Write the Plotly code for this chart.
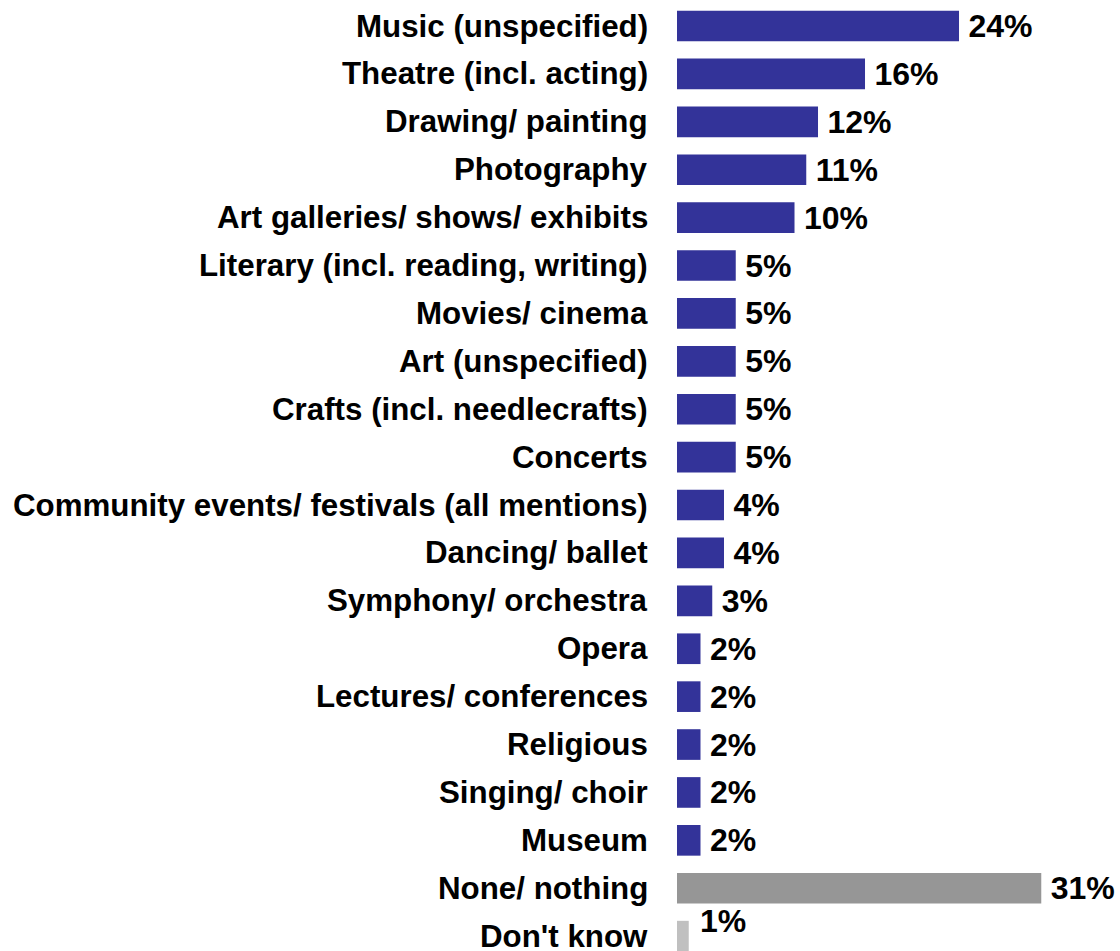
import plotly.graph_objects as go

# Arts and cultural activities mentioned (share of respondents, %)
activities = [
    "Music (unspecified)",
    "Theatre (incl. acting)",
    "Drawing/ painting",
    "Photography",
    "Art galleries/ shows/ exhibits",
    "Literary (incl. reading, writing)",
    "Movies/ cinema",
    "Art (unspecified)",
    "Crafts (incl. needlecrafts)",
    "Concerts",
    "Community events/ festivals (all mentions)",
    "Dancing/ ballet",
    "Symphony/ orchestra",
    "Opera",
    "Lectures/ conferences",
    "Religious",
    "Singing/ choir",
    "Museum",
    "None/ nothing",
    "Don't know",
]
shares = [24, 16, 12, 11, 10, 5, 5, 5, 5, 5, 4, 4, 3, 2, 2, 2, 2, 2, 31, 1]

BLUE = "#333399"
GRAY = "#969696"
LIGHT_GRAY = "#C0C0C0"


def bar_color(name):
    if name == "None/ nothing":
        return GRAY
    if name == "Don't know":
        return LIGHT_GRAY
    return BLUE


colors = [bar_color(a) for a in activities]
FONT = "Arial, 'Liberation Sans', Helvetica, sans-serif"
rows = list(range(len(activities)))
last = len(activities) - 1

# Value labels; the last row sits at the bottom edge, so its label is
# placed separately and lifted a little to stay fully visible.
labels = [f"\u2009{v}%" for v in shares]
labels[last] = ""

fig = go.Figure(
    go.Bar(
        x=shares,
        y=rows,
        orientation="h",
        marker=dict(color=colors, line=dict(width=0)),
        width=0.64,
        text=labels,
        textposition="outside",
        constraintext="none",
        textfont=dict(family=FONT, size=32, color="black", weight="bold"),
        cliponaxis=False,
        hoverinfo="skip",
    )
)

fig.add_annotation(
    x=shares[last],
    y=last,
    xref="x",
    yref="y",
    text=f"{shares[last]}%",
    showarrow=False,
    xanchor="left",
    yanchor="middle",
    xshift=9,
    yshift=15,
    font=dict(family=FONT, size=32, color="black", weight="bold"),
)

# Category labels, right-aligned just left of the bars
for r, name in zip(rows, activities):
    fig.add_annotation(
        x=0,
        y=r,
        xref="x",
        yref="y",
        text=name,
        showarrow=False,
        xanchor="right",
        yanchor="middle",
        xshift=-27,
        font=dict(family=FONT, size=31.3, color="black", weight="bold"),
    )

fig.update_layout(
    width=1120,
    height=951,
    margin=dict(l=677, r=0, t=0, b=0, autoexpand=False),
    paper_bgcolor="white",
    plot_bgcolor="white",
    showlegend=False,
    xaxis=dict(
        range=[0, 37.7],
        visible=False,
        fixedrange=True,
    ),
    yaxis=dict(
        range=[19.31, -0.543],
        visible=False,
        fixedrange=True,
    ),
)

fig.write_html("out.html")
